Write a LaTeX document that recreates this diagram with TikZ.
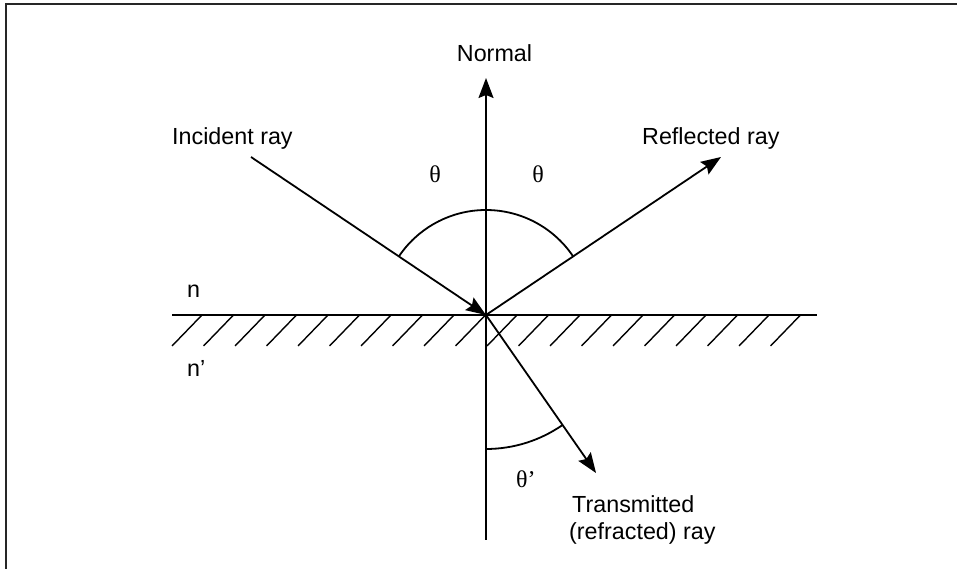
\documentclass[tikz,border=0pt]{standalone}
\usepackage{fontspec}
\setmainfont{Liberation Sans}
\newfontfamily\greekfont{Liberation Serif}
\usetikzlibrary{arrows.meta}
\begin{document}
\begin{tikzpicture}[x=1pt,y=1pt,
  ray/.style={line width=1.8pt,-{Stealth[length=20pt,width=15pt,inset=3pt]}},
  plain/.style={line width=1.8pt},
  hatch/.style={line width=1.4pt},
  frame/.style={line width=2pt,draw=black!85},
  lbl/.style={inner sep=0pt,font=\fontsize{23.3}{28}\selectfont},
  glbl/.style={inner sep=0pt,font=\fontsize{24}{28}\selectfont\greekfont}]
\useasboundingbox (0,0) rectangle (957,569);
% frame (only top and left edges visible)
\coordinate (fa) at (6,0);
\coordinate (fb) at (6,565);
\coordinate (fc) at (957,565);
\draw[frame] (fa) -- (fb) -- (fc);
% key points
\coordinate (O) at (486,254);
\coordinate (nb) at (486,29);
\coordinate (nt) at (486,491);
\coordinate (inc) at (251,412);
\coordinate (refl) at (721,412);
\coordinate (trans) at (596,96);
\coordinate (sl) at (172,254);
\coordinate (sr) at (817,254);
% surface and hatching
\draw[plain] (sl) -- (sr);
\foreach \i in {0,...,19}{
  \coordinate (h\i a) at ({202+31.5*\i},254);
  \coordinate (h\i b) at ({172+31.5*\i},223);
  \draw[hatch] (h\i a) -- (h\i b);
}
% normal
\draw[ray] (nb) -- (nt);
% rays
\draw[ray] (inc) -- (O);
\draw[ray] (O) -- (refl);
\draw[ray] (O) -- (trans);
% angle arcs
\draw[plain] (O) ++(33.9:105pt) arc[start angle=33.9,end angle=146.1,radius=105pt];
\draw[plain] (O) ++(270:134pt) arc[start angle=270,end angle=304.8,radius=134pt];
% labels
\node[lbl,anchor=base] (lnormal) at (494.5,507) {Normal};
\node[lbl,anchor=base west] (linc) at (172,424) {Incident ray};
\node[lbl,anchor=base west] (lrefl) at (642,424) {Reflected ray};
\node[lbl,anchor=base west] (ln) at (187,271) {n};
\node[lbl,anchor=base west] (lnp) at (187,192) {n’};
\node[lbl,anchor=base west] (ltr1) at (572,56) {Transmitted};
\node[lbl,anchor=base west] (ltr2) at (569,29) {(refracted) ray};
\node[glbl,anchor=base] (th1) at (435,386) {θ};
\node[glbl,anchor=base] (th2) at (538,386) {θ};
\node[glbl,anchor=base west] (th3) at (516,81) {θ’};
\end{tikzpicture}
\end{document}
